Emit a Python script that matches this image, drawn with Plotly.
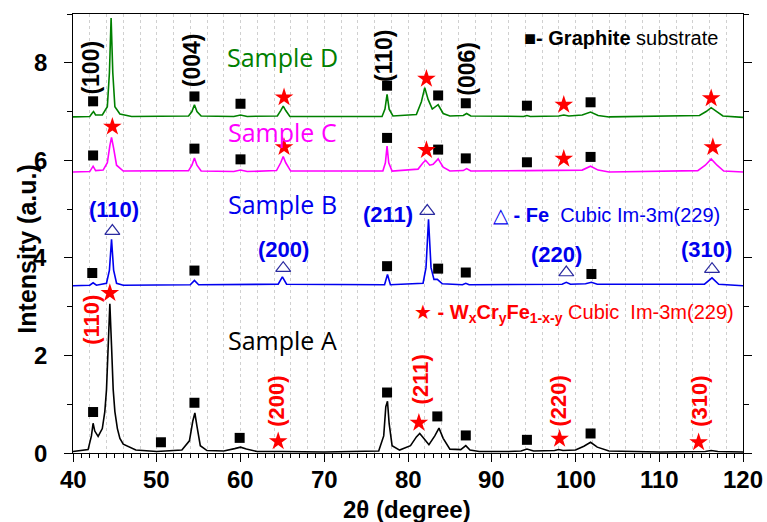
import plotly.graph_objects as go

# ---------------- data ----------------
# Sample A (black)
a_x = [40, 41.8, 42.2, 42.4, 42.6, 43.0, 43.5, 43.8, 44.0, 44.2, 44.4, 44.6, 44.8, 45.0, 45.3, 45.6, 46.0, 47.5, 50,
       53.0, 53.9, 54.3, 54.55, 54.8, 55.2, 56.0, 58.0, 59.3, 60.0, 60.7, 62, 65, 70, 76.5, 77.1, 77.35, 77.55,
       77.75, 78.1, 79.0, 80.3, 81.0, 81.4, 81.8, 82.5, 83.2, 83.7, 84.2, 85.0, 86.3, 86.9, 87.4, 88.5, 92, 93.5,
       94.2, 95, 97.5, 98.0, 98.5, 100, 101.0, 101.8, 102.6, 104, 110, 115.5, 116.2, 117, 120]
a_y = [0.03, 0.07, 0.35, 0.61, 0.45, 0.34, 0.5, 0.85, 1.3, 2.3, 3.06, 2.2, 1.3, 0.85, 0.5, 0.3, 0.18, 0.06, 0.03,
       0.06, 0.25, 0.65, 0.82, 0.55, 0.15, 0.05, 0.04, 0.09, 0.12, 0.08, 0.03, 0.03, 0.02, 0.04, 0.35, 0.95, 1.06,
       0.6, 0.15, 0.06, 0.15, 0.33, 0.40, 0.32, 0.17, 0.35, 0.51, 0.30, 0.08, 0.07, 0.15, 0.06, 0.03, 0.03, 0.04,
       0.08, 0.04, 0.05, 0.07, 0.05, 0.06, 0.14, 0.22, 0.12, 0.04, 0.02, 0.03, 0.05, 0.03, 0.02]

# Sample B (blue)
b_x = [40, 42.0, 42.4, 42.8, 44.0, 44.35, 44.6, 44.85, 45.2, 46.0, 54.0, 54.5, 55.0, 64.5, 65.0, 65.5, 77.2, 77.55,
       77.9, 81.8, 82.15, 82.45, 82.75, 83.1, 83.5, 84.1, 86.5, 86.9, 87.3, 94.2, 98.4, 98.9, 99.4, 101.2, 101.9,
       102.6, 115.4, 116.3, 117.1, 120]
b_y = [3.43, 3.44, 3.49, 3.44, 3.48, 3.75, 4.38, 3.75, 3.48, 3.44, 3.45, 3.54, 3.45, 3.46, 3.61, 3.46, 3.45, 3.66,
       3.45, 3.48, 3.8, 4.79, 3.8, 3.56, 3.56, 3.47, 3.45, 3.48, 3.45, 3.45, 3.46, 3.5, 3.46, 3.47, 3.5,
       3.46, 3.46, 3.59, 3.46, 3.43]

# Sample C (magenta)
c_x = [40, 42.0, 42.4, 42.7, 43.6, 44.1, 44.4, 44.6, 44.85, 45.2, 46, 53.8, 54.2, 54.5, 54.8, 55.3, 59.2, 60.0, 60.8,
       64.3, 64.8, 65.1, 65.4, 66.0, 77.0, 77.3, 77.5, 77.7, 78.1, 81.2, 81.8, 82.1, 82.6, 83.0, 83.6, 84.2, 85,
       86.6, 87.0, 87.5, 94.2, 98.6, 100.8, 101.8, 102.7, 104, 114.6, 115.5, 116.2, 116.9, 117.7, 120]
c_y = [5.76, 5.77, 5.88, 5.79, 5.8, 5.95, 6.3, 6.47, 6.25, 5.9, 5.78, 5.79, 5.9, 6.05, 5.9, 5.78, 5.77, 5.8, 5.77,
       5.79, 5.95, 6.08, 5.95, 5.78, 5.78, 5.95, 6.29, 5.95, 5.78, 5.82, 5.95, 6.0, 5.9, 5.92, 6.03, 5.86, 5.78,
       5.79, 5.83, 5.78, 5.79, 5.79, 5.8, 5.88, 5.8, 5.76, 5.79, 5.9, 6.03, 5.9, 5.78, 5.76]

# Sample D (green)
d_x = [40, 42.0, 42.3, 42.45, 42.7, 43.5, 44.1, 44.35, 44.55, 44.75, 45.0, 45.6, 47, 53.8, 54.2, 54.5, 54.8, 55.3,
       59.2, 60.0, 60.8, 64.4, 64.8, 65.1, 65.4, 65.9, 76.9, 77.25, 77.5, 77.75, 78.2, 81.0, 81.6, 82.0, 82.4,
       82.9, 83.6, 84.2, 85, 86.6, 87.0, 87.5, 93.8, 94.2, 94.6, 98.0, 98.6, 99.2, 100.8, 101.8, 102.7, 104,
       114.8, 115.6, 116.2, 116.8, 117.6, 120]
d_y = [6.89, 6.90, 6.97, 7.0, 6.93, 6.93, 7.1, 7.8, 8.92, 7.8, 7.1, 6.95, 6.9, 6.91, 7.0, 7.14, 7.0, 6.91,
       6.9, 6.93, 6.9, 6.91, 7.02, 7.11, 7.02, 6.9, 6.9, 7.05, 7.35, 7.05, 6.91, 6.94, 7.2, 7.49, 7.25,
       7.05, 7.14, 6.96, 6.91, 6.92, 6.96, 6.91, 6.9, 6.92, 6.9, 6.91, 6.93, 6.91, 6.93, 6.99, 6.92, 6.89,
       6.92, 7.0, 7.08, 7.0, 6.91, 6.88]

# Graphite substrate markers (black squares)
sq_x = [42.4, 50.5, 54.5, 59.9, 77.5, 83.5, 86.9, 94.2, 101.8,
        42.3, 54.5, 77.5, 83.6, 86.9, 101.9,
        42.4, 54.5, 60.0, 77.5, 83.6, 86.9, 94.2, 101.8,
        42.4, 54.5, 60.0, 77.5, 83.6, 86.9, 94.2, 101.8]
sq_y = [0.84, 0.22, 1.03, 0.31, 1.24, 0.75, 0.36, 0.27, 0.40,
        3.69, 3.74, 3.83, 3.78, 3.70, 3.67,
        6.10, 6.24, 6.02, 6.46, 6.22, 6.04, 5.96, 6.07,
        7.21, 7.31, 7.16, 7.53, 7.33, 7.17, 7.12, 7.19]

# WxCryFe1-x-y markers (red stars)
st_x = [44.4, 64.5, 81.3, 98.1, 114.7,
        44.7, 65.2, 82.2, 98.6, 116.4,
        65.2, 82.2, 98.6, 116.2]
st_y = [3.28, 0.24, 0.62, 0.29, 0.22,
        6.69, 6.27, 6.21, 6.03, 6.27,
        7.29, 7.67, 7.14, 7.27]

# Fe markers (open triangles)
tr_x = [44.7, 65.1, 82.3, 98.9, 116.3]
tr_y = [4.55, 3.79, 4.96, 3.70, 3.77]

# text labels
sample_names = ["Sample A", "Sample B", "Sample C", "Sample D"]
sample_colors = ["#000000", "#0000ee", "#ff00ff", "#008000"]
sample_lx = [65.0, 65.0, 65.0, 65.0]
sample_ly = [2.31, 5.11, 6.59, 8.11]

graphite_hkl = ["(100)", "(004)", "(110)", "(006)"]
graphite_hx = [42.2, 54.2, 77.2, 87.0]
graphite_hy = [7.91, 8.05, 8.13, 7.87]

fe_hkl = ["(110)", "(200)", "(211)", "(220)", "(310)"]
fe_hx = [44.9, 65.1, 77.6, 97.7, 115.7]
fe_hy = [4.99, 4.17, 4.89, 4.07, 4.17]

alloy_hkl = ["(110)", "(200)", "(211)", "(220)", "(310)"]
alloy_hx = [42.2, 64.3, 81.5, 98.0, 114.8]
alloy_hy = [2.74, 1.06, 1.50, 1.07, 1.06]

x_ticks = [40, 50, 60, 70, 80, 90, 100, 110, 120]
y_ticks = [0, 2, 4, 6, 8]

# ---------------- figure ----------------
BLUE = "#0000ee"
RED = "#ff0000"
ARIAL = "Liberation Sans, Arial, sans-serif"
SANS = "Open Sans, Noto Sans, sans-serif"

fig = go.Figure()

curves = [(a_x, a_y), (b_x, b_y), (c_x, c_y), (d_x, d_y)]
for (cx, cy), name, col in zip(curves, sample_names, sample_colors):
    fig.add_trace(go.Scatter(x=cx, y=cy, mode="lines", name=name,
                             line=dict(color=col, width=1.6), showlegend=False))

fig.add_trace(go.Scatter(x=sq_x, y=sq_y, mode="markers", showlegend=False,
                         marker=dict(symbol="square", size=10, color="#000000")))
fig.add_trace(go.Scatter(x=st_x, y=st_y, mode="markers", showlegend=False,
                         marker=dict(symbol="star", size=14, color=RED, line=dict(width=0))))
fig.add_trace(go.Scatter(x=tr_x, y=tr_y, mode="markers", showlegend=False,
                         marker=dict(symbol="triangle-up-open", size=13, color="#2a2aa0",
                                     line=dict(width=1.2))))
# invisible trace for the grid axis
fig.add_trace(go.Scatter(x=[40, 120], y=[0, 0], xaxis="x2", mode="lines",
                         line=dict(width=0), hoverinfo="skip", showlegend=False))

ann = []
for t, x, y, c in zip(sample_names, sample_lx, sample_ly, sample_colors):
    ann.append(dict(x=x, y=y, text=t, showarrow=False, font=dict(family=SANS, size=25, color=c)))
for t, x, y in zip(graphite_hkl, graphite_hx, graphite_hy):
    ann.append(dict(x=x, y=y, text="<b>%s</b>" % t, textangle=-90, showarrow=False,
                    font=dict(family=ARIAL, size=23, color="#000000")))
for t, x, y in zip(fe_hkl, fe_hx, fe_hy):
    ann.append(dict(x=x, y=y, text="<b>%s</b>" % t, showarrow=False,
                    font=dict(family=ARIAL, size=22, color=BLUE)))
for t, x, y in zip(alloy_hkl, alloy_hx, alloy_hy):
    ann.append(dict(x=x, y=y, text="<b>%s</b>" % t, textangle=-90, showarrow=False,
                    font=dict(family=ARIAL, size=22, color=RED)))

ann.append(dict(x=93.6, y=8.5, xanchor="left", showarrow=False,
                text="■<b>- Graphite</b> substrate",
                font=dict(family=ARIAL, size=20, color="#000000")))
ann.append(dict(x=89.9, y=4.87, xanchor="left", showarrow=False,
                text="△ <b>- Fe</b>  Cubic Im-3m(229)",
                font=dict(family=ARIAL, size=20, color=BLUE)))
ann.append(dict(x=80.5, y=2.85, xanchor="left", showarrow=False,
                text="★ <b>- W<sub>x</sub>Cr<sub>y</sub>Fe<sub>1-x-y</sub></b> Cubic  Im-3m(229)",
                font=dict(family=ARIAL, size=20, color=RED)))

# bold tick labels (placed at the tick values)
for v in x_ticks:
    ann.append(dict(x=v, xref="x", yref="paper", y=-0.06, yanchor="middle", xanchor="center",
                    text="<b>%d</b>" % v, showarrow=False,
                    font=dict(family=ARIAL, size=24, color="#000")))
for v in y_ticks:
    ann.append(dict(xref="paper", x=-0.036, y=v, yref="y", xanchor="right", yanchor="middle",
                    text="<b>%d</b>" % v, showarrow=False,
                    font=dict(family=ARIAL, size=24, color="#000")))

# axis titles
ann.append(dict(xref="paper", yref="paper", x=0.4985, y=-0.128, xanchor="center", yanchor="middle",
                text="<b>2θ (degree)</b>",
                showarrow=False, font=dict(family=ARIAL, size=24, color="#000")))
ann.append(dict(xref="paper", yref="paper", x=-0.069, y=0.465, xanchor="center", yanchor="middle",
                text="<b>Intensity (a.u.)</b>",
                textangle=-90, showarrow=False, font=dict(family=ARIAL, size=25, color="#000")))

fig.update_layout(
    width=767, height=522,
    margin=dict(l=73, r=24, t=14, b=69),
    plot_bgcolor="white", paper_bgcolor="white",
    annotations=ann,
    xaxis=dict(range=[40, 120], tickvals=x_ticks, showticklabels=False,
               ticks="outside", ticklen=8, tickwidth=1.3,
               tickcolor="#000", showline=True, linecolor="#000", linewidth=1.3, mirror=True,
               showgrid=False, zeroline=False, automargin=False,
               minor=dict(dtick=1, ticks="outside", ticklen=4, tickcolor="#000", showgrid=False)),
    xaxis2=dict(range=[40, 120], overlaying="x", anchor="y", dtick=2, tick0=40, showgrid=True,
                gridcolor="#d0d0d0", griddash="dot", gridwidth=1, showticklabels=False, ticks="",
                showline=False, zeroline=False, automargin=False),
    yaxis=dict(range=[0, 9.0], tickvals=y_ticks, showticklabels=False,
               ticks="outside", ticklen=8, tickwidth=1.3,
               tickcolor="#000", showline=True, linecolor="#000", linewidth=1.3, mirror="ticks",
               showgrid=False, zeroline=False, automargin=False,
               minor=dict(dtick=1, ticks="outside", ticklen=5, tickcolor="#000", showgrid=False)),
)

fig.write_html("out.html")
